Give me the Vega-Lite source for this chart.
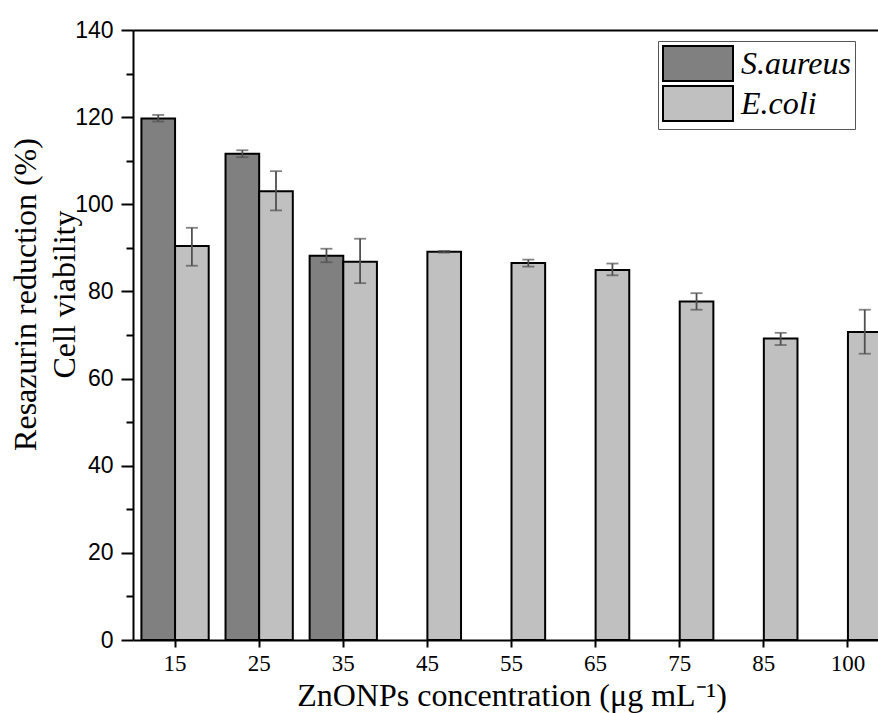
{
  "$schema": "https://vega.github.io/schema/vega-lite/v6.json",
  "width": 745,
  "height": 610,
  "autosize": {"type": "none"},
  "padding": {"left": 133, "top": 30, "right": 0, "bottom": 73},
  "background": "white",
  "config": {
    "view": {"stroke": null},
    "axis": {"grid": false, "domainColor": "black", "tickColor": "black", "labelColor": "black", "titleColor": "black", "domainWidth": 2, "tickWidth": 2}
  },
  "data": {
    "values": [
      {"conc": "15", "series": "S.aureus", "value": 119.7, "lo": 119.0, "hi": 120.5},
      {"conc": "25", "series": "S.aureus", "value": 111.6, "lo": 110.8, "hi": 112.4},
      {"conc": "35", "series": "S.aureus", "value": 88.2, "lo": 86.7, "hi": 89.8},
      {"conc": "15", "series": "E.coli", "value": 90.4, "lo": 85.9, "hi": 94.6},
      {"conc": "25", "series": "E.coli", "value": 103.0, "lo": 98.6, "hi": 107.6},
      {"conc": "35", "series": "E.coli", "value": 86.8, "lo": 81.9, "hi": 92.1},
      {"conc": "45", "series": "E.coli", "value": 89.1, "lo": 88.9, "hi": 89.3},
      {"conc": "55", "series": "E.coli", "value": 86.5, "lo": 85.7, "hi": 87.3},
      {"conc": "65", "series": "E.coli", "value": 84.9, "lo": 83.7, "hi": 86.4},
      {"conc": "75", "series": "E.coli", "value": 77.7, "lo": 75.8, "hi": 79.6},
      {"conc": "85", "series": "E.coli", "value": 69.2, "lo": 67.7, "hi": 70.5},
      {"conc": "100", "series": "E.coli", "value": 70.7, "lo": 65.7, "hi": 75.8}
    ]
  },
  "resolve": {"axis": {"x": "independent", "y": "independent"}},
  "layer": [
    {
      "mark": {"type": "bar", "stroke": "black", "strokeWidth": 2, "clip": true},
      "encoding": {
        "x": {
          "field": "conc", "type": "nominal",
          "scale": {"domain": ["15","25","35","45","55","65","75","85","100"], "range": [0, 757], "paddingInner": 0.2, "paddingOuter": 0.1},
          "axis": {"orient": "bottom", "labelAngle": 0, "tickSize": 7, "labelFont": "Liberation Serif", "labelFontSize": 23, "labelPadding": 5,
                   "title": "ZnONPs concentration (μg mL⁻¹)", "titleFont": "Liberation Serif", "titleFontSize": 32, "titleFontWeight": "normal",
                   "titleBaseline": "alphabetic", "titleY": 65}
        },
        "xOffset": {"field": "series", "type": "nominal", "scale": {"domain": ["S.aureus", "E.coli"], "paddingInner": 0, "paddingOuter": 0}},
        "y": {
          "field": "value", "type": "quantitative",
          "scale": {"domain": [0, 140], "nice": false, "zero": true},
          "axis": {"orient": "left", "values": [0,20,40,60,80,100,120,140], "tickSize": 12, "labelFont": "Liberation Sans", "labelFontSize": 23, "labelPadding": 8,
                   "title": ["Resazurin reduction (%)", "Cell viability"], "titleFont": "Liberation Serif", "titleFontSize": 32, "titleFontWeight": "normal",
                   "titleAngle": -90, "titleAlign": "center", "titleBaseline": "alphabetic", "titleLineHeight": 39, "titleX": -98, "titleY": 264}
        },
        "color": {
          "field": "series", "type": "nominal",
          "scale": {"domain": ["S.aureus", "E.coli"], "range": ["#808080", "#c0c0c0"]},
          "legend": {"title": null, "orient": "none", "legendX": 525, "legendY": 11, "direction": "vertical",
                     "symbolType": "M-1,-1H3V1H-1Z", "symbolSize": 1225, "symbolStrokeWidth": 2, "symbolStrokeColor": "black", "symbolOpacity": 1,
                     "labelFont": "Liberation Serif", "labelFontStyle": "italic", "labelFontSize": 32, "labelColor": "black", "labelOffset": 42,
                     "strokeColor": "#555", "fillColor": "white", "padding": 4, "rowPadding": -6}
        }
      }
    },
    {
      "mark": {"type": "rule", "color": "#505050", "strokeWidth": 1.8},
      "encoding": {
        "x": {"field": "conc", "type": "nominal", "scale": {"domain": ["15","25","35","45","55","65","75","85","100"], "range": [0, 757], "paddingInner": 0.2, "paddingOuter": 0.1}, "axis": null},
        "xOffset": {"field": "series", "type": "nominal", "scale": {"domain": ["S.aureus", "E.coli"], "paddingInner": 0, "paddingOuter": 0}},
        "y": {"field": "lo", "type": "quantitative", "scale": {"domain": [0, 140], "nice": false}, "axis": null},
        "y2": {"field": "hi"}
      }
    },
    {
      "mark": {"type": "tick", "color": "#505050", "thickness": 1.8, "size": 12},
      "encoding": {
        "x": {"field": "conc", "type": "nominal", "scale": {"domain": ["15","25","35","45","55","65","75","85","100"], "range": [0, 757], "paddingInner": 0.2, "paddingOuter": 0.1}, "axis": null},
        "xOffset": {"field": "series", "type": "nominal", "scale": {"domain": ["S.aureus", "E.coli"], "paddingInner": 0, "paddingOuter": 0}},
        "y": {"field": "lo", "type": "quantitative", "scale": {"domain": [0, 140], "nice": false},
              "axis": {"orient": "left", "values": [10,30,50,70,90,110,130], "tickSize": 7, "labels": false, "domain": false, "title": null}}
      }
    },
    {
      "mark": {"type": "tick", "color": "#505050", "thickness": 1.8, "size": 12},
      "encoding": {
        "x": {"field": "conc", "type": "nominal", "scale": {"domain": ["15","25","35","45","55","65","75","85","100"], "range": [0, 757], "paddingInner": 0.2, "paddingOuter": 0.1},
              "axis": {"orient": "top", "labels": false, "ticks": false, "domain": true, "title": null}},
        "xOffset": {"field": "series", "type": "nominal", "scale": {"domain": ["S.aureus", "E.coli"], "paddingInner": 0, "paddingOuter": 0}},
        "y": {"field": "hi", "type": "quantitative", "scale": {"domain": [0, 140], "nice": false}, "axis": null}
      }
    }
  ]
}
